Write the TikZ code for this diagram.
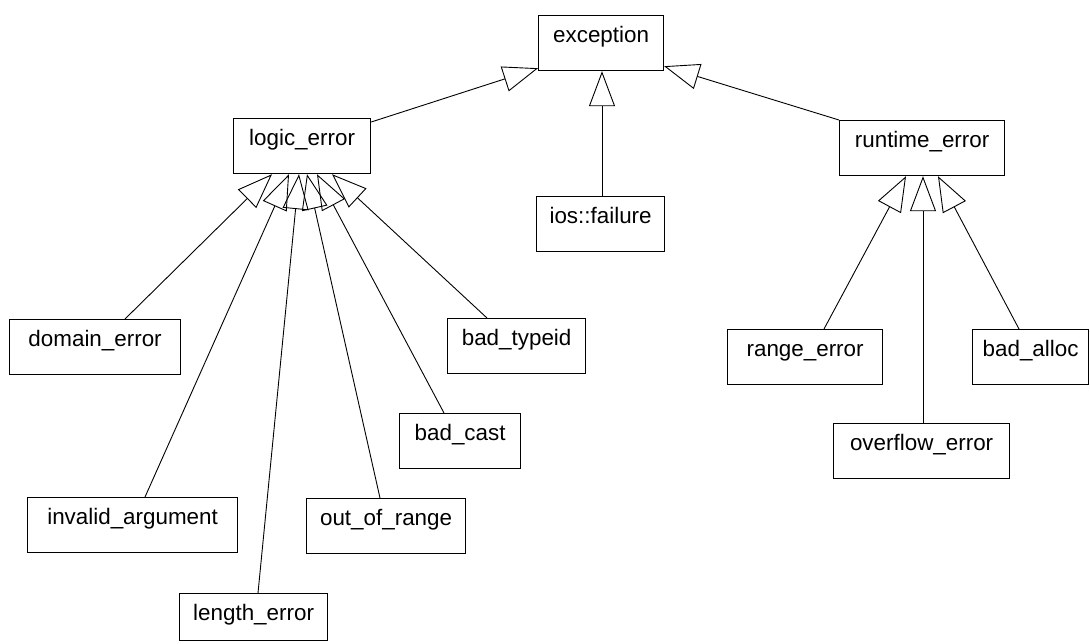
\documentclass[tikz,border=0pt]{standalone}
\usepackage{fontspec}
\setmainfont{Liberation Sans}
\usetikzlibrary{arrows.meta,calc}
\begin{document}
\begin{tikzpicture}[x=1pt,y=-1pt,
  cls/.style={draw, line width=1.2pt, inner sep=0pt, text height=27pt, text depth=28pt,
    font=\fontsize{22.4}{26}\selectfont, anchor=north west},
  inh/.style={line width=0.9pt, -{Triangle[open, length=35pt, width=26pt]}}]
\fill[white] (0,0) rectangle (1090,643);
\useasboundingbox (0,0) rectangle (1090,643);
% classes
\node[cls, minimum width=125pt] (exc) at (538,15) {exception};
\node[cls, minimum width=137pt] (logic) at (233,118) {logic\_error};
\node[cls, minimum width=165pt] (rt) at (839,120) {runtime\_error};
\node[cls, minimum width=128pt] (ios) at (536,196) {ios::failure};
\node[cls, minimum width=171pt] (dom) at (9,319) {domain\_error};
\node[cls, minimum width=138pt] (tid) at (447,318) {bad\_typeid};
\node[cls, minimum width=121pt] (cast) at (399,413) {bad\_cast};
\node[cls, minimum width=210pt] (inv) at (27,497) {invalid\_argument};
\node[cls, minimum width=159pt] (oor) at (306,498) {out\_of\_range};
\node[cls, minimum width=148pt, text depth=20pt] (len) at (179,593) {length\_error};
\node[cls, minimum width=155pt] (rng) at (727,329) {range\_error};
\node[cls, minimum width=116pt] (alloc) at (972,329) {bad\_alloc};
\node[cls, minimum width=176pt] (ovf) at (833,423) {overflow\_error};
% inheritance to exception
\draw[inh] ($(logic.north east)+(0,4)$) -- ($(exc.south west)+(0,-3)$);
\draw[inh] ($(ios.north west)+(66,0)$) -- ($(exc.south west)+(64,0)$);
\draw[inh] (rt.north west) -- ($(exc.south east)+(0,-5)$);
% inheritance to logic_error
\draw[inh] ($(dom.north west)+(116,0)$) -- ($(logic.south west)+(39,0)$);
\draw[inh] ($(inv.north west)+(118,0)$) -- ($(logic.south west)+(56,0)$);
\draw[inh] ($(len.north west)+(79,0)$) -- ($(logic.south west)+(66,0)$);
\draw[inh] ($(oor.north west)+(74,0)$) -- ($(logic.south west)+(74,0)$);
\draw[inh] ($(cast.north west)+(45,0)$) -- ($(logic.south west)+(84,0)$);
\draw[inh] ($(tid.north west)+(40,0)$) -- ($(logic.south west)+(99,0)$);
% inheritance to runtime_error
\draw[inh] ($(rng.north west)+(97,0)$) -- ($(rt.south west)+(67,0)$);
\draw[inh] ($(ovf.north west)+(90,0)$) -- ($(rt.south west)+(84,0)$);
\draw[inh] ($(alloc.north west)+(47,0)$) -- ($(rt.south west)+(99,0)$);
\end{tikzpicture}
\end{document}
